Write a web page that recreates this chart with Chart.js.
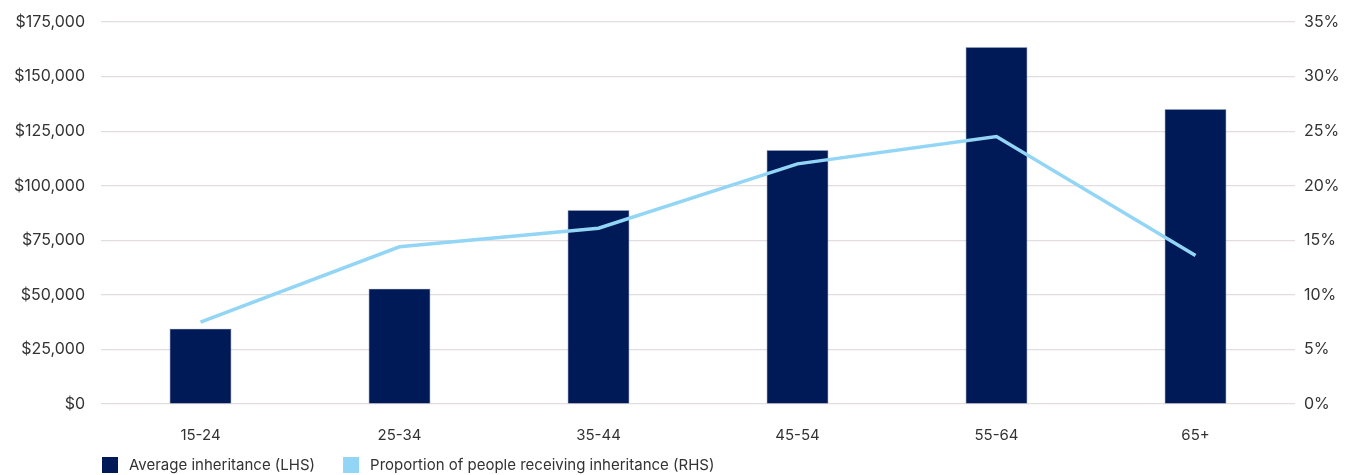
<!DOCTYPE html>
<html>
<head>
<meta charset="utf-8">
<script src="https://cdn.jsdelivr.net/npm/chart.js@4.4.1/dist/chart.umd.min.js"></script>
<style>
  html, body { margin: 0; padding: 0; background: #fff; }
  #wrap { width: 1354px; height: 475px; }
</style>
</head>
<body>
<div id="wrap"><canvas id="chart"></canvas></div>
<script>
// age groups and the two series
const ageGroups = ["15-24", "25-34", "35-44", "45-54", "55-64", "65+"];
const avgInheritance = [34500, 52800, 88800, 116300, 163400, 135000];
const shareReceiving = [7.5, 14.4, 16.1, 22.0, 24.5, 13.6];

const seriesNames = ["Average inheritance (LHS)", "Proportion of people receiving inheritance (RHS)"];
const navy = "#001a57";
const skyBlue = "#92d5f5";
const textColor = "#333333";
const fontFamily = "Inter, 'Open Sans', sans-serif";

// legend drawn under the x axis, left edge lined up with the plot area
const bottomLegend = {
    id: "bottomLegend",
    afterDraw(chart) {
        const c = chart.ctx;
        const box = 16;
        let x = chart.chartArea.left + 1;
        const yMid = chart.height - 10;
        c.save();
        c.font = "15px " + fontFamily;
        c.textBaseline = "middle";
        chart.data.datasets.forEach(ds => {
            c.fillStyle = ds.backgroundColor;
            c.fillRect(x, yMid - box / 2, box, box);
            x += box + 11;
            c.fillStyle = textColor;
            c.fillText(ds.label, x, yMid);
            x += c.measureText(ds.label).width + 28;
        });
        c.restore();
    }
};

// fixed axis widths; the outer padding alone sets the plot's top edge
const fixAxis = width => scale => {
    scale.width = width;
    scale.paddingTop = 0;
    scale.paddingBottom = 0;
};

const ctx = document.getElementById("chart").getContext("2d");
new Chart(ctx, {
    type: "bar",
    data: {
        labels: ageGroups,
        datasets: [{
            label: seriesNames[0],
            data: avgInheritance,
            backgroundColor: navy,
            borderColor: "#3a4f86",
            borderWidth: 0.6,
            yAxisID: "y",
            categoryPercentage: 1,
            barPercentage: 0.31,
            order: 1
        }, {
            type: "line",
            label: seriesNames[1],
            data: shareReceiving,
            borderColor: skyBlue,
            backgroundColor: skyBlue,
            borderWidth: 3.5,
            pointRadius: 0,
            tension: 0,
            yAxisID: "y1",
            order: 0
        }]
    },
    options: {
        responsive: true,
        maintainAspectRatio: false,
        animation: false,
        layout: { padding: { top: 22, bottom: 17 } },
        plugins: {
            tooltip: { enabled: false },
            legend: { display: false }
        },
        scales: {
            x: {
                grid: { display: false },
                border: { display: false },
                ticks: { color: textColor, font: { family: fontFamily, size: 15 }, padding: 14 }
            },
            y: {
                position: "left",
                min: 0,
                max: 175000,
                ticks: {
                    stepSize: 25000,
                    color: textColor,
                    font: { family: fontFamily, size: 16 },
                    padding: 16,
                    callback: v => "$" + v.toLocaleString("en-US")
                },
                grid: { color: "#e3dde0", lineWidth: 1.2, drawTicks: false },
                border: { display: false },
                afterFit: fixAxis(101)
            },
            y1: {
                position: "right",
                min: 0,
                max: 35,
                ticks: {
                    stepSize: 5,
                    color: textColor,
                    font: { family: fontFamily, size: 16 },
                    padding: 9,
                    callback: v => v + "%"
                },
                grid: { display: false, drawTicks: false },
                border: { display: false },
                afterFit: fixAxis(59)
            }
        }
    },
    plugins: [bottomLegend]
});
</script>
</body>
</html>
